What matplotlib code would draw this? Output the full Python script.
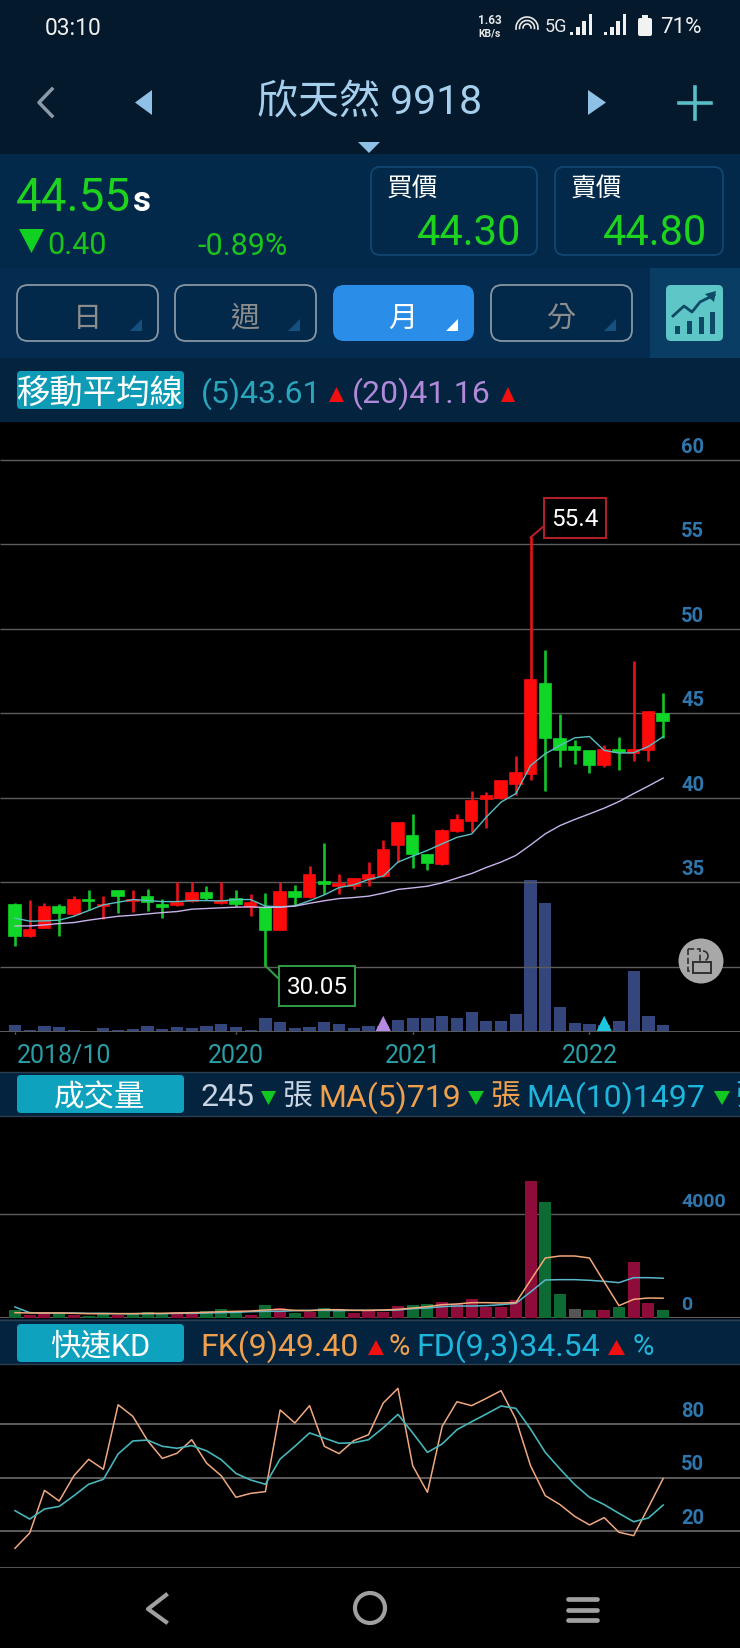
import matplotlib
matplotlib.use("Agg")
import matplotlib.pyplot as plt
from matplotlib.patches import Rectangle, FancyBboxPatch, Polygon, Circle, Arc

plt.rcParams['font.family'] = ['Roboto', 'Noto Sans CJK TC', 'DejaVu Sans']

# monthly candles, 2018/10 .. 2022/06
opens = [33.66, 31.80, 32.27, 33.50, 33.12, 33.97, 33.60, 34.49, 33.91, 34.13, 33.62, 33.62, 33.91, 34.33, 33.75,
         34.01, 33.54, 33.46, 32.15, 34.41, 34.13, 35.00, 34.80, 34.76, 35.16, 35.36, 37.17, 37.75, 36.58, 36.07,
         38.00, 38.60, 39.94, 39.98, 40.83, 41.42, 46.73, 43.48, 42.99, 42.76, 41.91, 42.85, 42.66, 42.85, 44.98]
closes = [31.80, 32.19, 33.50, 33.18, 33.97, 33.91, 33.66, 34.21, 33.97, 33.81, 33.54, 33.77, 34.37, 34.09, 33.89,
          33.70, 33.77, 32.15, 34.41, 34.13, 35.42, 34.92, 34.88, 35.16, 35.43, 36.90, 38.48, 36.68, 36.15, 38.00,
          38.68, 39.82, 40.10, 40.97, 41.46, 46.97, 43.52, 42.80, 42.80, 41.95, 42.85, 42.70, 42.80, 45.06, 44.55]
highs = [33.77, 33.97, 33.77, 33.70, 34.17, 34.51, 34.21, 34.49, 34.53, 34.57, 34.01, 35.00, 35.00, 34.76, 35.00,
         34.53, 34.31, 34.37, 35.00, 34.84, 35.95, 37.31, 35.47, 35.20, 36.19, 37.51, 38.48, 39.03, 36.68, 38.16,
         39.03, 40.40, 40.34, 40.97, 42.46, 55.40, 48.76, 44.96, 43.39, 42.76, 43.09, 43.62, 48.11, 45.06, 46.18]
lows = [31.21, 31.76, 32.27, 31.84, 33.06, 33.38, 32.83, 33.18, 33.22, 33.30, 32.87, 33.58, 33.85, 33.97, 33.72,
        33.54, 33.02, 30.05, 32.15, 33.66, 34.09, 34.31, 34.31, 34.57, 34.76, 35.28, 36.19, 35.83, 35.73, 36.03,
        37.96, 37.96, 38.20, 39.90, 40.14, 41.06, 40.39, 41.81, 42.01, 41.48, 41.83, 41.65, 42.15, 42.15, 43.54]
ma5 = [32.87, 32.69, 32.71, 32.75, 32.98, 33.32, 33.66, 33.81, 33.97, 33.91, 33.85, 33.85, 33.91, 33.91, 33.89,
       33.97, 33.97, 33.58, 33.54, 33.60, 33.90, 34.25, 34.68, 34.84, 35.16, 35.36, 36.19, 36.54, 36.88, 37.27,
       37.65, 37.85, 38.85, 39.74, 40.24, 41.90, 42.60, 43.09, 43.54, 43.62, 42.80, 42.64, 42.66, 43.03, 43.61]
ma20 = [32.41, 32.41, 32.47, 32.55, 32.61, 32.75, 32.87, 32.98, 33.04, 33.12, 33.20, 33.26, 33.40, 33.44, 33.48,
        33.52, 33.54, 33.50, 33.52, 33.58, 33.75, 33.90, 34.03, 34.09, 34.17, 34.35, 34.57, 34.66, 34.76, 34.96,
        35.24, 35.51, 35.87, 36.19, 36.58, 37.20, 37.86, 38.35, 38.71, 39.04, 39.38, 39.77, 40.24, 40.69, 41.16]
price_ticks = [60, 55, 50, 45, 40, 35, 30]
price_labels = ['60', '55', '50', '45', '40', '35']

volume = [243, 58, 197, 185, 81, 35, 127, 58, 104, 197, 93, 174, 127, 208, 289,
          185, 69, 474, 336, 139, 174, 347, 266, 145, 208, 197, 405, 474, 497, 567,
          486, 706, 393, 382, 636, 5280, 4480, 880, 310, 270, 260, 370, 2130, 540, 245]
# u = up month, d = down month, f = flat
vol_dir = ['d', 'u', 'u', 'd', 'u', 'd', 'd', 'u', 'd', 'd', 'd', 'u', 'u', 'd', 'd',
           'd', 'u', 'd', 'u', 'd', 'u', 'd', 'd', 'u', 'u', 'u', 'u', 'd', 'd', 'u',
           'u', 'u', 'u', 'u', 'u', 'u', 'd', 'd', 'f', 'd', 'u', 'd', 'u', 'u', 'd']
vol_ma5 = [158, 145, 145, 145, 132, 119, 119, 119, 119, 132, 132, 145, 158, 170, 196,
           209, 222, 261, 287, 248, 235, 274, 274, 248, 248, 261, 287, 339, 391, 469,
           495, 547, 547, 534, 547, 1416, 2285, 2362, 2362, 2285, 1351, 430, 676, 728, 719]
vol_ma10 = [378, 158, 145, 145, 145, 132, 132, 119, 119, 119, 119, 132, 132, 145, 158,
            170, 196, 209, 209, 235, 248, 248, 235, 248, 248, 248, 261, 313, 339, 391,
            417, 417, 430, 469, 521, 962, 1429, 1442, 1442, 1416, 1377, 1325, 1519, 1519, 1497]
vol_ticks = [4000, 0]

fk = [10.3, 18.9, 42.8, 36.8, 51.0, 60.2, 54.6, 90.8, 84.3, 70.7, 60.7, 63.6, 71.2, 58.1, 51.0,
      38.9, 41.1, 42.1, 87.9, 80.6, 90.3, 67.5, 63.4, 70.7, 74.0, 91.8, 100.0, 56.6, 41.7, 78.7,
      92.5, 90.3, 94.4, 98.7, 82.8, 56.6, 39.8, 34.8, 28.2, 23.4, 27.5, 19.3, 17.4, 33.3, 49.4]
fd = [31.4, 26.7, 32.3, 33.8, 39.8, 46.2, 49.0, 63.2, 70.5, 71.0, 67.5, 66.4, 67.9, 65.0, 60.0,
      52.3, 48.6, 46.2, 60.4, 67.5, 75.0, 72.1, 69.2, 69.5, 71.2, 77.9, 85.4, 75.0, 64.1, 68.8,
      76.8, 81.3, 85.6, 90.1, 88.8, 77.2, 64.1, 54.8, 46.0, 38.9, 34.8, 29.9, 25.2, 27.3, 34.54]
kd_ticks = [80, 50, 20]

date_idx = [0, 15, 27, 39]
date_labels = ['2018/10', '2020', '2021', '2022']

W, H = 740, 1649
N = len(closes)
xs = list(range(N))
# candle 0 sits at x=15px, one candle every 14.73px
xlim = (-15 / 14.73, (W - 15) / 14.73)

RED = '#ff0a0a'
GREEN = '#10d628'
GRID = '#5c5c5c'
AXIS_BLUE = '#2f76ad'

fig = plt.figure(figsize=(W / 100, H / 100), dpi=100, facecolor='black')


def panel(top, bottom):
    a = fig.add_axes([0, 1 - bottom / H, 1, (bottom - top) / H])
    a.set_facecolor('black')
    a.set_xlim(*xlim)
    for s in a.spines.values():
        s.set_visible(False)
    a.tick_params(left=False, bottom=False, labelleft=False, labelbottom=False)
    return a


def axis_labels(a, ticks, labels, x=681, size=14.5):
    # value labels sit just above their grid line, on the right
    for t, l in zip(ticks, labels):
        a.annotate(l, xy=(x / W, t), xycoords=a.get_yaxis_transform(), xytext=(0, 3), textcoords='offset points',
                   color=AXIS_BLUE, fontsize=size, fontweight='bold', va='bottom', ha='left')


# ---- price panel
ax = panel(423, 1033)
ax.set_ylim(30 - (1033 - 967.7) / 16.88, 60 + (460.7 - 423) / 16.88)
for t in price_ticks:
    ax.axhline(t, color=GRID, lw=1.0, zorder=1)
ax.axhline(ax.get_ylim()[0], color=GRID, lw=1.4, zorder=1)

up = [c >= o for o, c in zip(opens, closes)]
colors = [RED if u else GREEN for u in up]
wick_colors = ['#e8121a' if u else '#14c42a' for u in up]
ax.vlines(xs, lows, highs, colors=wick_colors, lw=1.9, zorder=3)
ax.bar(xs, [abs(c - o) for o, c in zip(opens, closes)], bottom=[min(o, c) for o, c in zip(opens, closes)],
       width=0.78, color=colors, edgecolor=colors, lw=1.2, zorder=4)
ax.plot(xs, ma5, color='#58c0c4', lw=1.0, zorder=5)
ax.plot(xs, ma20, color='#c8b4ec', lw=1.0, zorder=5)
axis_labels(ax, price_ticks[:6], price_labels)

# small volume bars at the foot of the price panel
axv = ax.twinx()
axv.set_ylim(0, 610 * 34.7)
axv.axis('off')
axv.bar(xs, volume, width=0.83, color='#34467c', zorder=2)
axv.scatter([25, 40], [230, 230], marker='^', s=190, color=['#b58ae2', '#1cc6de'], zorder=6, linewidths=0)
ax.set_zorder(axv.get_zorder() + 1)
ax.patch.set_visible(False)
axv.patch.set_visible(True)
axv.patch.set_facecolor('black')
ax.vlines(date_idx, ax.get_ylim()[0] - 0.12, ax.get_ylim()[0], colors='#707070', lw=1, clip_on=False)
for i, l in zip(date_idx, date_labels):
    ax.annotate(l, xy=(i, ax.get_ylim()[0]), xycoords='data', xytext=(2 if i == 0 else 0, -23),
                textcoords='offset pixels', annotation_clip=False, color='#2a9ea6', fontsize=18,
                ha='left' if i == 0 else 'center', va='center')

# ---- volume panel
ax2 = panel(1117, 1319)
ax2.set_ylim(-50, -50 + (1319 - 1117) * 38.9)
ax2.axhline(4000, color=GRID, lw=1.0, zorder=1)
ax2.axhline(-50, color=GRID, lw=2.2, zorder=1)
vol_color = {'u': '#8e0c3a', 'd': '#0c6a32', 'f': '#555555'}
ax2.bar(xs, [v + 50 for v in volume], bottom=-50, width=0.82, color=[vol_color[d] for d in vol_dir], zorder=2)
ax2.plot(xs, vol_ma5, color='#f2a878', lw=1.1, zorder=4)
ax2.plot(xs, vol_ma10, color='#5ab8cc', lw=1.1, zorder=3)
axis_labels(ax2, vol_ticks, ['4000', '0'], size=14)

# ---- KD panel
ax3 = panel(1365, 1569)
ax3.set_ylim(20 - (1569 - 1532) / 1.783, 20 + (1532 - 1365) / 1.783)
for t in kd_ticks:
    ax3.axhline(t, color=GRID, lw=1.4, zorder=1)
ax3.axhline(ax3.get_ylim()[0], color=GRID, lw=2, zorder=1)
ax3.plot(xs, fk, color='#f0a880', lw=1.1, zorder=3)
ax3.plot(xs, fd, color='#46b4b8', lw=1.2, zorder=3)
axis_labels(ax3, kd_ticks, ['80', '50', '20'])

# ---- everything around the chart, in screen pixels
ui = fig.add_axes([0, 0, 1, 1], zorder=20)
ui.set_xlim(0, W)
ui.set_ylim(H, 0)
ui.axis('off')


def rect(x0, y0, x1, y1, color, z=1):
    ui.add_patch(Rectangle((x0, y0), x1 - x0, y1 - y0, facecolor=color, edgecolor='none', zorder=z))


def rbox(x0, y0, x1, y1, fc, ec='none', lw=1.3, r=9, z=2):
    ui.add_patch(FancyBboxPatch((x0 + r, y0 + r), x1 - x0 - 2 * r, y1 - y0 - 2 * r,
                                boxstyle='round,pad=%d,rounding_size=%d' % (r, r), fc=fc, ec=ec, lw=lw, zorder=z))


def tri(points, color, z=3):
    ui.add_patch(Polygon(points, closed=True, fc=color, ec='none', zorder=z))


def down(x, y, w, h, color='#10c820'):
    tri([(x, y), (x + w, y), (x + w / 2, y + h)], color)


def upt(x, y, w, h, color='#f01010'):
    tri([(x, y + h), (x + w, y + h), (x + w / 2, y)], color)


def label(x, y, s, color='white', size=23, ha='left', weight='normal'):
    # va=center sits a little high for these fonts, so nudge by the size
    ui.text(x, y + size * 0.17, s, color=color, fontsize=size, ha=ha, va='center', fontweight=weight, zorder=8)


rect(0, 0, W, 155, '#04192b')
rect(0, 155, W, 269, '#03294a')
rect(0, 269, W, 359, '#032c50')
rect(650, 269, W, 359, '#0a3d64')
rect(0, 359, W, 423, '#04233f')
rect(0, 1073, W, 1117, '#04233f')
rect(0, 1320, W, 1365, '#04233f')
for y in (1073, 1117, 1321, 1365):
    ui.plot([0, W], [y, y], color='#2a3f52', lw=1, zorder=2)

# status bar
label(45, 26, '03:10', '#f0f0f0', 16.5)
label(478, 19, '1.63', '#e8e8e8', 8.5, weight='bold')
label(478, 32, 'KB/s', '#e8e8e8', 7.5, weight='bold')
for d in (8, 15, 22):
    ui.add_patch(Arc((527, 29), d, d, theta1=170, theta2=370, ec='#e8e8e8', lw=1.2, zorder=3))
label(545, 25, '5G', '#e8e8e8', 13)
for x0 in (570, 604):
    for k, h in enumerate((3, 8, 14, 21)):
        rect(x0 + k * 6.2, 36 - h, x0 + k * 6.2 + 3.4, 36, '#f0f0f0', 3)
rbox(638, 19, 652, 37, '#f2f2f2', r=2)
rect(642, 16, 648, 19, '#f2f2f2', 3)
label(660, 25, '71%', '#f0f0f0', 16)

# title row
ui.plot([52, 39, 52], [90, 103.5, 117], color='#8a9aa8', lw=2.5, zorder=3)
tri([(152, 91), (152, 116), (135, 103.5)], '#8fc0e6')
tri([(588, 91), (588, 116), (606, 103.5)], '#8fc0e6')
ui.plot([695, 695], [88, 120], color='#58bfc6', lw=2.6, zorder=3)
ui.plot([679, 711], [104, 104], color='#58bfc6', lw=2.6, zorder=3)
label(370, 98, '欣天然 9918', '#a6cfee', 29.5, ha='center')
down(358, 143, 22, 11, '#8fc0e6')

# quote row
label(16, 192, '44.55', '#1dd31d', 33)
label(133, 197, 's', 'white', 25, weight='bold')
down(19, 230, 25, 24, '#10d020')
label(47, 242, '0.40', '#1bc41b', 22)
label(197, 243, '-0.89%', '#1bc41b', 22)
for x0, x1, head, val in ((371, 537, '買價', '44.30'), (555, 723, '賣價', '44.80')):
    rbox(x0, 168, x1, 256, '#03294a', '#10466f')
    label(x0 + 16, 186, head, 'white', 18.5)
    label(x1 - 16, 228, val, '#1dd31d', 30, ha='right')

# period tabs
for x0, s, active in ((17, '日', False), (175, '週', False), (333, '月', True), (491, '分', False)):
    fc = '#2a8ee8' if active else '#03294a'
    rbox(x0, 286, x0 + 141, 342, fc, 'none' if active else '#8796a3', lw=1.3, r=11)
    label(x0 + 70, 315, s, 'white' if active else '#8c8c8c', 21, ha='center')
    tc = 'white' if active else '#16507e'
    tri([(x0 + 125, 332), (x0 + 113, 332), (x0 + 125, 320)], tc)
rbox(666, 286, 723, 342, '#5ec6c6', r=5)
for x0, h in ((677, 8), (689, 13), (701, 17), (712, 22)):
    rect(x0 - 2, 335 - h, x0 + 3, 335, '#0e4a66', 4)
ui.plot([673, 684, 692, 700, 714], [317, 307, 313, 303, 296], color='#0e4a66', lw=2, zorder=4)
tri([(716, 292), (705, 295), (714, 303)], '#0e4a66', 4)

# indicator rows
rbox(17, 372, 184, 410, '#0e9bb6', r=4)
label(100, 390, '移動平均線', 'white', 24, ha='center')
label(201, 390, '(5)43.61', '#2aa6bc', 23)
upt(329, 388, 15, 15)
label(352, 390, '(20)41.16', '#b08ad8', 23)
upt(501, 388, 14, 15)

rbox(17, 1076, 184, 1114, '#0ea2be', r=4)
label(100, 1094, '成交量', 'white', 22, ha='center')
label(201, 1094, '245', '#c8d4e2', 23)
down(261, 1092, 15, 14)
label(282, 1094, '張', '#c8d4e2', 21.5)
label(318, 1094, 'MA(5)719', '#f0a04c', 23)
down(468, 1092, 16, 14)
label(490, 1094, '張', '#f0a04c', 21.5)
label(526, 1094, 'MA(10)1497', '#1fb6dc', 23)
down(714, 1092, 16, 14)
label(735, 1094, '張', '#1fb6dc', 21.5)

rbox(17, 1325, 184, 1363, '#0ea2be', r=4)
label(100, 1343, '快速KD', 'white', 22, ha='center')
label(200, 1343, 'FK(9)49.40', '#f0a04c', 23)
upt(368, 1341, 16, 15)
label(388, 1343, '%', '#f0a04c', 21)
label(416, 1343, 'FD(9,3)34.54', '#1fb6dc', 23)
upt(608, 1341, 17, 15)
label(632, 1343, '%', '#1fb6dc', 21)


# high / low callouts: the leader starts at the candle's wick tip
def to_px(a, x, y):
    px, py = a.transData.transform((x, y))
    return px, H - py


hi = highs.index(max(highs))
lo = lows.index(min(lows))
px, py = to_px(ax, hi, highs[hi])
ui.plot([px, 544], [py, 527], color='#b3202a', lw=1.5, zorder=6)
ui.add_patch(Rectangle((544, 499), 62, 40, fc='black', ec='#b3202a', lw=1.4, zorder=6))
label(575, 517, '%.1f' % highs[hi], 'white', 17.5, ha='center')
px, py = to_px(ax, lo, lows[lo])
ui.plot([px, 279], [py, 980], color='#2f9e46', lw=1.5, zorder=6)
ui.add_patch(Rectangle((279, 967), 76, 40, fc='black', ec='#2f9e46', lw=1.4, zorder=6))
label(317, 985, '%.2f' % lows[lo], 'white', 17.5, ha='center')

# rotate button
ui.add_patch(Circle((701, 962), 22.5, fc='#a8a8a8', ec='none', zorder=6))
ui.add_patch(Rectangle((688, 950), 12, 22, fc='none', ec='#303030', lw=1.2, ls='--', zorder=7))
ui.add_patch(Rectangle((693, 963), 18, 11, fc='#a8a8a8', ec='#303030', lw=1.4, zorder=7))
ui.add_patch(Arc((703, 957), 10, 10, theta1=-90, theta2=60, ec='#303030', lw=1.2, zorder=7))

# android nav bar
ui.plot([166, 148, 166], [1596, 1610, 1623], color='#a0a0a0', lw=3, zorder=3)
ui.add_patch(Circle((370, 1609), 15, fc='none', ec='#a0a0a0', lw=3, zorder=3))
for y in (1600, 1611, 1621):
    ui.plot([568, 597], [y, y], color='#a0a0a0', lw=3.4, solid_capstyle='round', zorder=3)

fig.savefig('out.png', dpi=100, facecolor='black')
